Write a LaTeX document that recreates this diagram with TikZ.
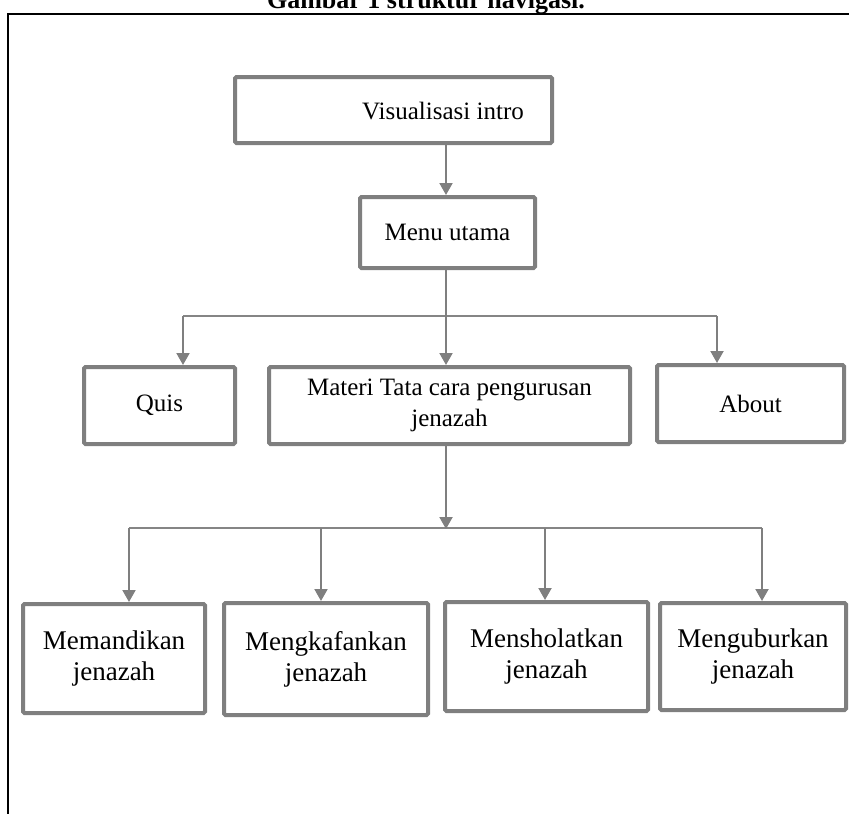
\documentclass[tikz,border=0pt]{standalone}
\usepackage{fontspec}
\setmainfont{Liberation Serif}
\usetikzlibrary{arrows.meta}
\definecolor{boxgray}{HTML}{7F7F7F}
\definecolor{linegray}{HTML}{858585}
\tikzset{
 box/.style={draw=boxgray, line width=4pt, rounded corners=1.5pt, inner sep=0pt, fill=white},
 toptext/.style={font=\fontsize{25}{31}\selectfont, align=center},
 bottext/.style={font=\fontsize{27}{31}\selectfont, align=center},
 arr/.style={draw=boxgray, line width=2pt, -{Triangle[width=13pt,length=12pt]}},
 conn/.style={draw=boxgray, line width=2pt},
 bus/.style={draw=linegray, line width=1.5pt},
 framerule/.style={draw=black, line width=2.5pt},
}
\begin{document}
\begin{tikzpicture}[x=1pt,y=-1pt]
\path[use as bounding box, clip] (0,0) rectangle (849,814);
% caption
\node[font=\bfseries\fontsize{26}{30}\selectfont, anchor=base, inner sep=0pt] (cap) at (426,8) {Gambar 1 struktur navigasi.};
% frame
\coordinate (fb) at (8,830);
\coordinate (fc) at (8,14);
\coordinate (fr) at (860,14);
\draw[framerule] (fb) -- (fc) -- (fr);
% boxes
\node[box, minimum width=317pt, minimum height=66pt] (vis) at (393.5,110) {};
\node[toptext, inner sep=0pt] (vist) at (443,111) {Visualisasi intro};
\node[box, toptext, minimum width=175pt, minimum height=71pt] (menu) at (447.5,232.5) {Menu utama};
\node[box, toptext, minimum width=151pt, minimum height=77pt] (quis) at (159.5,405.5) {Quis};
\node[box, toptext, minimum width=361pt, minimum height=77pt] (materi) at (449.5,405.5) {Materi Tata cara pengurusan\\jenazah};
\node[box, toptext, minimum width=187pt, minimum height=77pt] (about) at (750.5,403.5) {About};
\node[box, bottext, minimum width=182pt, minimum height=109pt] (mem) at (114,658.5) {Memandikan\\jenazah};
\node[box, bottext, minimum width=204pt, minimum height=112pt] (mkf) at (326,659) {Mengkafankan\\jenazah};
\node[box, bottext, minimum width=203pt, minimum height=109pt] (msh) at (546.5,656.5) {Mensholatkan\\jenazah};
\node[box, bottext, minimum width=186pt, minimum height=107pt] (mgb) at (753,656.5) {Menguburkan\\jenazah};
% level 1
\coordinate (a1) at (446,143);
\draw[arr] (a1) -- (a1 |- menu.north);
% bus 1
\coordinate (b1L) at (183,316);
\coordinate (b1M) at (446,316);
\coordinate (b1R) at (717,316);
\draw[bus] (b1L) -- (b1R);
\draw[conn] (b1M |- menu.south) -- (b1M);
\draw[arr] (b1L) -- (b1L |- quis.north);
\draw[arr] (b1M) -- (b1M |- materi.north);
\draw[arr] (b1R) -- (b1R |- about.north);
% bus 2
\coordinate (b2L) at (129,528);
\coordinate (b2A) at (321,528);
\coordinate (b2M) at (446,529);
\coordinate (b2B) at (545,528);
\coordinate (b2R) at (762,528);
\draw[bus] (b2L) -- (b2R);
\draw[arr] (b2M |- materi.south) -- (b2M);
\draw[arr] (b2L) -- (b2L |- mem.north);
\draw[arr] (b2A) -- (b2A |- mkf.north);
\draw[arr] (b2B) -- (b2B |- msh.north);
\draw[arr] (b2R) -- (b2R |- mgb.north);
\end{tikzpicture}
\end{document}
